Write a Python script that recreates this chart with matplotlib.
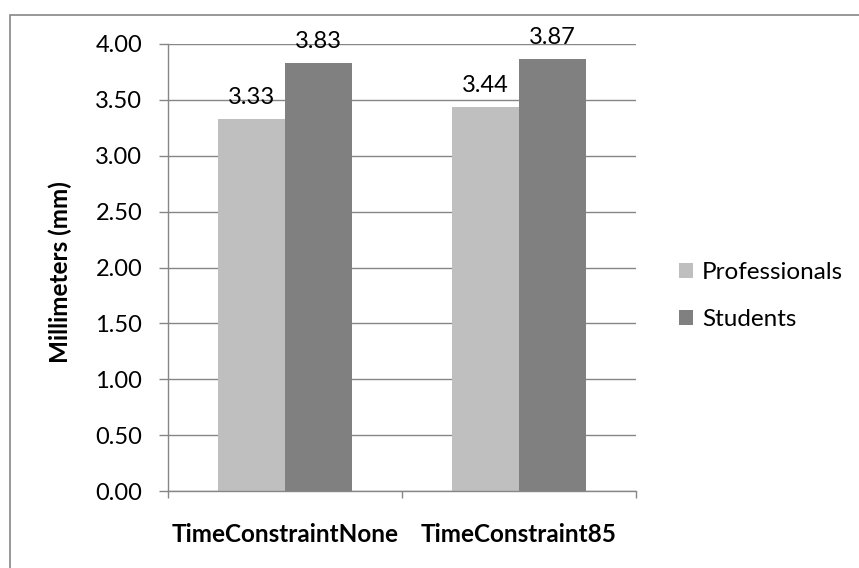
import matplotlib.pyplot as plt
from matplotlib.patches import Rectangle

categories = ["TimeConstraintNone", "TimeConstraint85"]
professionals = [3.33, 3.44]
students = [3.83, 3.87]
series_names = ["Professionals", "Students"]
yticks = [0.0, 0.5, 1.0, 1.5, 2.0, 2.5, 3.0, 3.5, 4.0]

plt.rcParams["font.family"] = ["Lato", "DejaVu Sans"]
GRID = "#868686"

fig = plt.figure(figsize=(8.59, 5.68), dpi=100)
ax = fig.add_axes([168 / 859, 1 - 491 / 568, 468 / 859, 447 / 568])

# chart border (cropped at right and bottom)
fig.patches.append(Rectangle((10 / 859, -0.1), 1.0, 1 - 15 / 568 + 0.1,
                             transform=fig.transFigure, fill=False,
                             edgecolor=GRID, linewidth=1.2))

w = 0.286
x = list(range(len(categories)))
b1 = ax.bar([i - w / 2 for i in x], professionals, w, color="#BFBFBF", label=series_names[0])
b2 = ax.bar([i + w / 2 for i in x], students, w, color="#808080", label=series_names[1])

for bars in (b1, b2):
    for rect in bars:
        h = rect.get_height()
        ax.annotate(f"{h:.2f}", (rect.get_x() + rect.get_width() / 2, h),
                    xytext=(0, 11), textcoords="offset pixels",
                    ha="center", va="bottom", fontsize=17, annotation_clip=False)

ax.set_ylim(0, 4)
ax.set_xlim(-0.5, 1.5)
ax.set_yticks(yticks)
ax.set_yticklabels([f"{t:.2f}" for t in yticks], fontsize=17)
ax.yaxis.grid(True, color=GRID, linewidth=1)
ax.set_axisbelow(True)
ax.tick_params(axis="y", length=6.5, width=1, color=GRID, pad=12)

ax.set_xticks(x)
ax.set_xticklabels(categories, fontsize=17.5, fontweight="bold")
ax.set_xticks([-0.5, 0.5, 1.5], minor=True)
ax.tick_params(axis="x", which="major", length=0, pad=23)
ax.tick_params(axis="x", which="minor", length=5, width=1, color=GRID)

for s in ("top", "right"):
    ax.spines[s].set_visible(False)
for s in ("left", "bottom"):
    ax.spines[s].set_color(GRID)
    ax.spines[s].set_linewidth(1)

ax.set_ylabel("Millimeters (mm)", fontsize=17.5, fontweight="bold")
ax.yaxis.set_label_coords(-0.205, 0.49)

ax.legend(loc="center left", bbox_to_anchor=(679 / 859, 1 - 296 / 568),
          bbox_transform=fig.transFigure, frameon=False, fontsize=17.5,
          handlelength=0.58, handleheight=0.58, handletextpad=0.37,
          labelspacing=1.05, borderpad=0, borderaxespad=0)

fig.savefig("out.png", dpi=100)
